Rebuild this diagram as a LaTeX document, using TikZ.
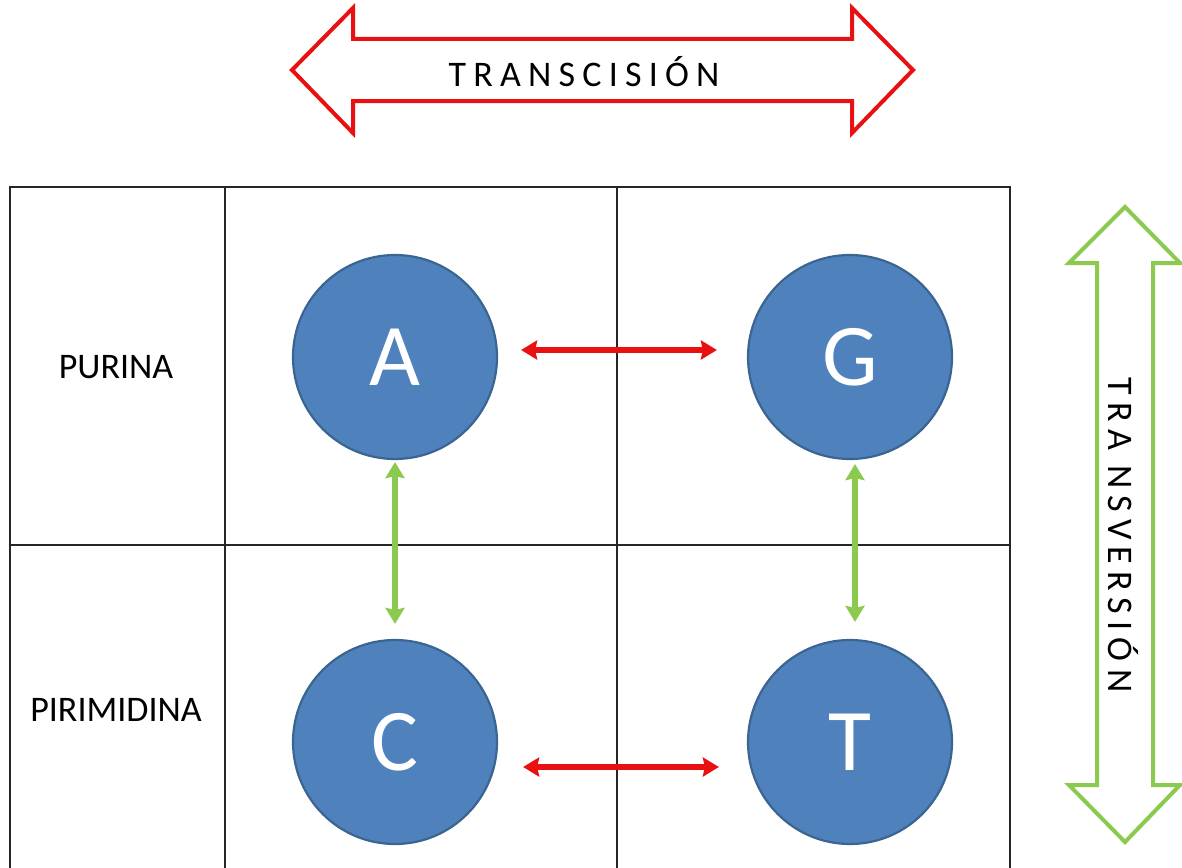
\documentclass[tikz,border=0pt]{standalone}
\usepackage{fontspec}
\setmainfont{Carlito}
\usetikzlibrary{arrows.meta}

\definecolor{basefill}{HTML}{4F81BD}
\definecolor{baseedge}{HTML}{3A6591}
\definecolor{trred}{HTML}{E81010}
\definecolor{trgreen}{HTML}{8BC94F}

\begin{document}
\begin{tikzpicture}[x=1pt,y=-1pt,
  grid/.style={draw=black!85,line width=2pt},
  base/.style={circle,minimum size=204pt,inner sep=0pt,fill=basefill,draw=baseedge,
    line width=2.2pt,text=white,font=\fontsize{88}{88}\selectfont},
  rowlabel/.style={font=\fontsize{36}{36}\selectfont},
  transarr/.style={draw=trred,line width=5.5pt,
    {Stealth[length=16pt,width=19pt,inset=2pt]}-{Stealth[length=16pt,width=19pt,inset=2pt]}},
  versarr/.style={draw=trgreen,line width=5.5pt,
    {Stealth[length=16pt,width=19pt,inset=2pt]}-{Stealth[length=16pt,width=19pt,inset=2pt]}},
  bigred/.style={draw=trred,line width=4pt,line join=miter},
  biggreen/.style={draw=trgreen,line width=4pt,line join=miter},
  spaced/.style={font=\fontsize{36}{36}\selectfont\addfontfeature{LetterSpace=20}}
]
\useasboundingbox (0,0) rectangle (1182,867);

% table grid
\draw[grid] (10,187) rectangle (1010,870);
\draw[grid] (225,187) -- (225,870);
\draw[grid] (617,187) -- (617,870);
\draw[grid] (10,545) -- (1010,545);

% row labels
\node[rowlabel] (purina) at (116,367) {PURINA};
\node[rowlabel] (pirimidina) at (116,710) {PIRIMIDINA};

% bases
\node[base] (A) at (395,357) {A};
\node[base] (G) at (850,357) {G};
\node[base] (C) at (395,742) {C};
\node[base] (T) at (850,742) {T};

% transitions and transversions between bases
\draw[transarr] ([xshift=23pt,yshift=7pt]A.east) -- ([xshift=-30pt,yshift=7pt]G.west);
\draw[transarr] ([xshift=25pt,yshift=-25pt]C.east) -- ([xshift=-28pt,yshift=-25pt]T.west);
\draw[versarr] ([yshift=-2pt]A.south) -- ([yshift=15pt]C.north);
\draw[versarr] ([xshift=5pt,yshift=-4pt]G.south) -- ([xshift=5pt,yshift=17pt]T.north);

% horizontal double arrow
\draw[bigred] (292,70) -- (353,8) -- (353,39) -- (852,39) -- (852,8) -- (913,70)
  -- (852,133) -- (852,101) -- (353,101) -- (353,133) -- cycle;
\node[spaced] (transicion) at (584,72) {TRANSCISIÓN};

% vertical double arrow
\draw[biggreen] (1125,207) -- (1180,263) -- (1153,263) -- (1153,785) -- (1180,785)
  -- (1125,842) -- (1069,785) -- (1097,785) -- (1097,263) -- (1069,263) -- cycle;
\node[spaced,rotate=-90] (transversion) at (1123,535) {TRA NSVERSIÓN};
\end{tikzpicture}
\end{document}
